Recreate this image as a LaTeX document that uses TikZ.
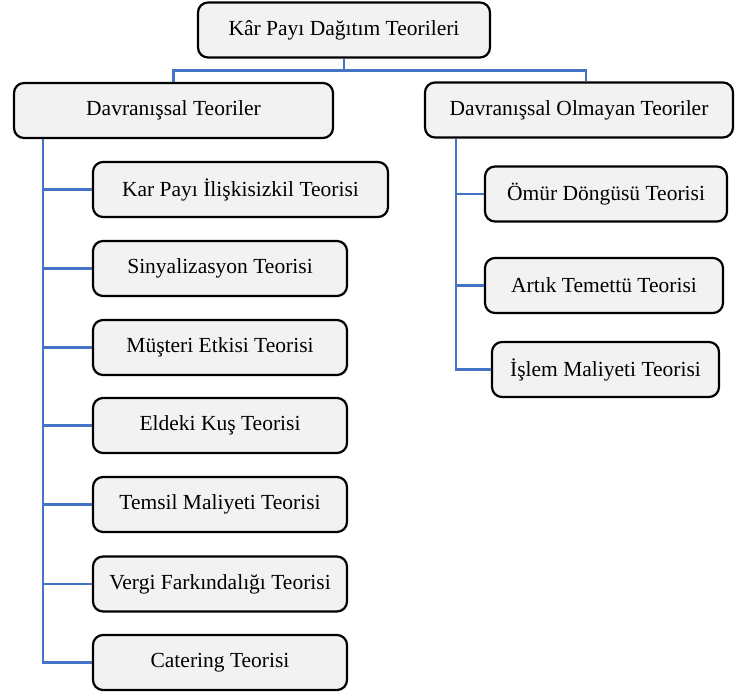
\documentclass[tikz,border=0pt]{standalone}
\usepackage{fontspec}
\setmainfont{Liberation Serif}
\usepackage{tikz}

\definecolor{linkblue}{HTML}{4472C4}
\definecolor{boxgray}{HTML}{F2F2F2}

\tikzset{
  teori/.style={draw=black, line width=2.2pt, rounded corners=10pt, fill=boxgray,
    minimum height=55pt, inner sep=0pt, font={\fontsize{21.5}{25}\selectfont}},
  link/.style={draw=linkblue, line width=2.4pt}
}

\begin{document}
\begin{tikzpicture}[x=1pt, y=-1pt]
        \useasboundingbox (0,0) rectangle (735,696);

        \node[teori, minimum width=292pt] (root) at (344, 30) {Kâr Payı Dağıtım Teorileri};

        \node[teori, minimum width=319pt] (davr) at (173.5, 110.5) {Davranışsal Teoriler};
        \node[teori, minimum width=308pt] (olmayan) at (579, 110) {Davranışsal Olmayan Teoriler};


        \node[teori, minimum width=295pt] (iliski) at (240.5, 189.5) {Kar Payı İlişkisizkil Teorisi};
        \node[teori, minimum width=254pt] (sinyal) at (220, 268.5) {Sinyalizasyon Teorisi};
        \node[teori, minimum width=254pt] (musteri) at (220, 347.5) {Müşteri Etkisi Teorisi};
        \node[teori, minimum width=254pt] (kus) at (220, 425.5) {Eldeki Kuş Teorisi};
        \node[teori, minimum width=254pt] (temsil) at (220, 504.5) {Temsil Maliyeti Teorisi};
        \node[teori, minimum width=254pt] (vergi) at (220, 584) {Vergi Farkındalığı Teorisi};
        \node[teori, minimum width=254pt] (catering) at (220, 662.5) {Catering Teorisi};


        \node[teori, minimum width=242pt] (omur) at (606, 194) {Ömür Döngüsü Teorisi};
        \node[teori, minimum width=238pt] (artik) at (604, 285.5) {Artık Temettü Teorisi};
        \node[teori, minimum width=227pt] (islem) at (605.5, 369.5) {İşlem Maliyeti Teorisi};

        
        \draw[link] (root.south) -- ++(0, 12) -| (davr.north);
        \draw[link] (root.south) -- ++(0, 12) -| ([xshift=7pt]olmayan.north);

        \coordinate (soltrunk) at ([xshift=30pt]davr.south west);
        \coordinate (sagtrunk) at ([xshift=32pt]olmayan.south west);

        \foreach \n in {iliski, sinyal, musteri, kus, temsil, vergi, catering}
            \draw[link] (soltrunk) |- (\n.west);

        \foreach \n in {omur, artik, islem}
            \draw[link] (sagtrunk) |- (\n.west);
    \end{tikzpicture}
\end{document}
